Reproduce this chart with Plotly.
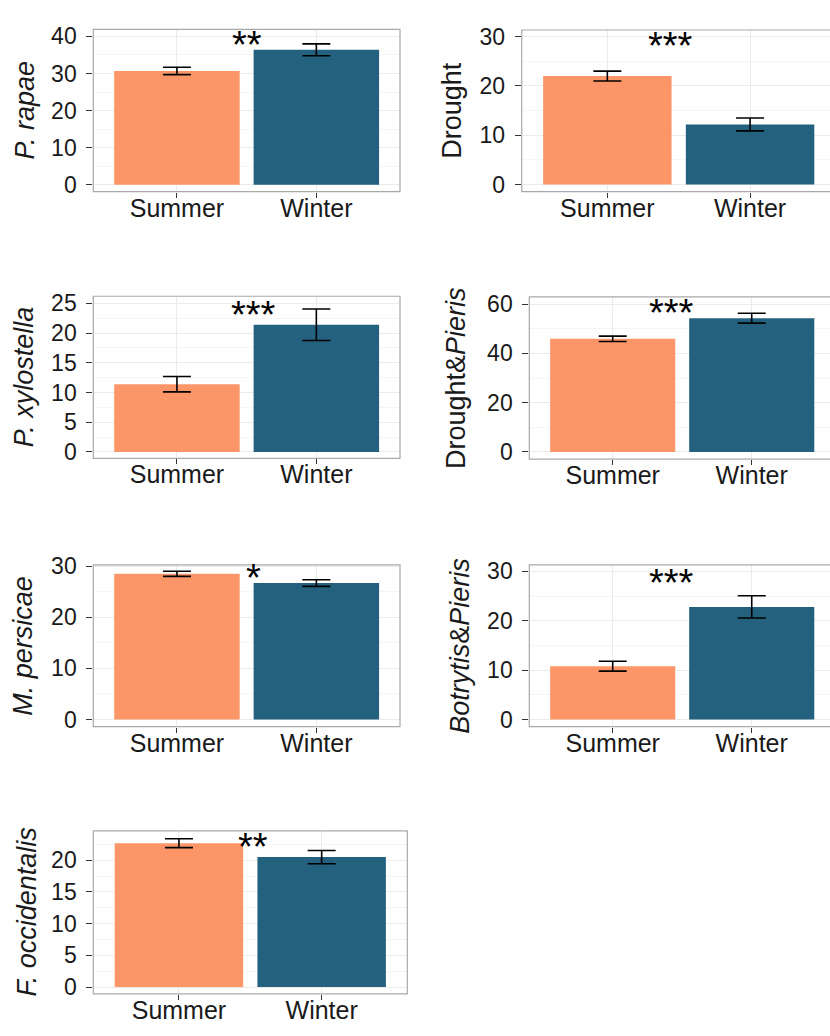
import plotly.graph_objects as go

W, H = 830, 1036

seasons = ["Summer", "Winter"]
panel_titles = ["<i>P. rapae</i>", "Drought", "<i>P. xylostella</i>", "Drought&<i>Pieris</i>",
                "<i>M. persicae</i>", "<i>Botrytis</i>&<i>Pieris</i>", "<i>F. occidentalis</i>"]
summer_mean = [30.7, 22.0, 11.4, 45.9, 28.5, 10.8, 22.7]
winter_mean = [36.4, 12.2, 21.4, 54.3, 26.7, 22.8, 20.5]
summer_se = [1.0, 1.0, 1.3, 1.1, 0.5, 1.0, 0.7]
winter_se = [1.6, 1.3, 2.65, 2.0, 0.65, 2.25, 1.05]
signif = ["**", "***", "***", "***", "*", "***", "**"]
star_x = [0.5, 0.44, 0.55, 0.42, 0.55, 0.42, 0.52]
star_y = [39.2, 29.4, 24.1, 58.9, 28.8, 28.9, 23.1]
y_ranges = [[-1.86, 41.9], [-1.4, 31.35], [-1.09, 26.2], [-2.9, 62.9],
            [-1.4, 30.25], [-1.45, 31.3], [-1.09, 24.65]]
y_dticks = [10, 10, 5, 20, 10, 10, 5]

# layout boxes in pixels: left, right, top, bottom, x-range right end, title x center
boxes = [
    (93.3, 400.0, 17.7, 182.7, 1.6, 25),
    (521.7, 830.0, 18.3, 182.7, 1.56, 452),
    (93.3, 400.0, 289.3, 454.3, 1.6, 24),
    (529.3, 830.0, 290.0, 455.0, 1.563, 456),
    (93.3, 400.0, 562.7, 727.3, 1.6, 23),
    (529.3, 830.0, 562.7, 727.3, 1.563, 460),
    (93.3, 407.3, 833.3, 999.3, 1.6, 27),
]

ORANGE = "#FC9668"
BLUE = "#23617F"
FONT = "Liberation Sans, Arial, Helvetica, sans-serif"

fig = go.Figure()
annotations = []
shapes = []
for i in range(7):
    n = "" if i == 0 else str(i + 1)
    l, r, t, b, xr, tx = boxes[i]
    fig.add_trace(go.Bar(
        x=seasons, y=[summer_mean[i], winter_mean[i]], width=0.9,
        marker=dict(color=[ORANGE, BLUE], line=dict(width=0)),
        error_y=dict(type="data", array=[summer_se[i], winter_se[i]], color="black",
                     thickness=1.6, width=14),
        xaxis="x" + n, yaxis="y" + n, showlegend=False,
    ))
    xa = dict(domain=[l / W, r / W], anchor="y" + n, range=[-0.6, xr],
              type="category", showgrid=True, gridcolor="#EBEBEB", gridwidth=1,
              ticks="outside", ticklen=5, tickcolor="#333333", tickwidth=1,
              tickfont=dict(size=25, color="#1a1a1a", family=FONT),
              ticklabelstandoff=-11, zeroline=False, showline=False, fixedrange=True)
    ya = dict(domain=[1 - b / H, 1 - t / H], anchor="x" + n, range=y_ranges[i],
              dtick=y_dticks[i], tick0=0, showgrid=True, gridcolor="#EBEBEB", gridwidth=1,
              minor=dict(dtick=y_dticks[i] / 2, tick0=0, showgrid=True,
                         gridcolor="#F5F5F5", gridwidth=1),
              ticks="outside", ticklen=6, tickcolor="#333333", tickwidth=1,
              tickfont=dict(size=23, color="#1a1a1a", family=FONT),
              ticklabelstandoff=5, zeroline=False, showline=False, fixedrange=True)
    fig.layout["xaxis" + n] = xa
    fig.layout["yaxis" + n] = ya
    x1 = 1.0 if r < 820 else 1.05
    shapes.append(dict(type="rect", xref="x" + n + " domain", yref="y" + n + " domain",
                       x0=0, x1=x1, y0=0, y1=1, line=dict(color="#A9A9A9", width=1.2),
                       fillcolor="rgba(0,0,0,0)", layer="above"))
    annotations.append(dict(x=star_x[i], y=star_y[i], xref="x" + n, yref="y" + n,
                            text=signif[i], showarrow=False, yshift=-6,
                            font=dict(size=38, color="black", family=FONT)))
    annotations.append(dict(x=tx / W, y=1 - (t + b) / 2 / H, xref="paper", yref="paper",
                            text=panel_titles[i], textangle=-90, showarrow=False,
                            xanchor="center", yanchor="middle",
                            font=dict(size=27, color="#1a1a1a", family=FONT)))

fig.update_layout(width=W, height=H, margin=dict(l=0, r=0, t=0, b=0),
                  paper_bgcolor="white", plot_bgcolor="white",
                  annotations=annotations, shapes=shapes, bargap=0.1,
                  font=dict(family=FONT))
fig.write_html("out.html", config={"displayModeBar": False})
